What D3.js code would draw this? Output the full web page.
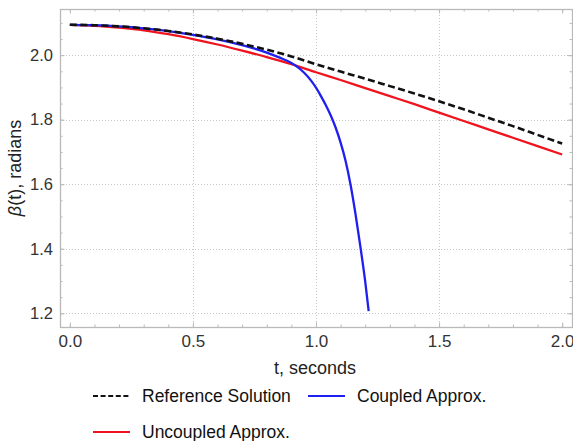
<!DOCTYPE html>
<html>
<head>
<meta charset="utf-8">
<script src="https://cdn.jsdelivr.net/npm/d3@7"></script>
<style>
  html, body { margin: 0; padding: 0; background: #fff; }
  svg { display: block; font-family: "Liberation Sans", Arial, sans-serif; }
</style>
</head>
<body>
<svg id="chart" width="573" height="441"></svg>
<script>
// ---- data ----
const tGrid = [0,0.1,0.2,0.3,0.4,0.5,0.6,0.7,0.8,0.9,1.0,1.1,1.2,1.3,1.4,1.5,1.6,1.7,1.8,1.9,2.0];
const referenceBeta = [2.094,2.0928,2.0892,2.0832,2.0748,2.064,2.051,2.035,2.017,1.996,1.972,1.949,1.927,1.904,1.881,1.857,1.832,1.806,1.780,1.753,1.726];
const uncoupledBeta = [2.094,2.091,2.085,2.077,2.065,2.050,2.033,2.014,1.994,1.972,1.947,1.923,1.898,1.873,1.848,1.822,1.796,1.770,1.744,1.718,1.692];
const coupledT    = [0,0.1,0.2,0.3,0.4,0.5,0.6,0.7,0.8,0.85,0.9,0.92,0.95,0.98,1.0,1.02,1.04,1.06,1.08,1.10,1.12,1.14,1.16,1.18,1.20,1.214];
const coupledBeta = [2.094,2.0928,2.0892,2.083,2.0745,2.063,2.049,2.031,2.008,1.993,1.976,1.966,1.947,1.921,1.899,1.873,1.845,1.813,1.775,1.729,1.673,1.600,1.510,1.408,1.298,1.207];

const xMajorTicks = [0, 0.5, 1.0, 1.5, 2.0];
const xTickLabels = ["0.0", "0.5", "1.0", "1.5", "2.0"];
const yMajorTicks = [1.2, 1.4, 1.6, 1.8, 2.0];
const yTickLabels = ["1.2", "1.4", "1.6", "1.8", "2.0"];
const xGridValues = [0.5, 1.0, 1.5];
const xLabel = "t, seconds";
const legendLabels = ["Reference Solution", "Coupled Approx.", "Uncoupled Approx."];

// ---- layout ----
const svg = d3.select("#chart");
const L = 60, R = 572, T = 9, B = 327;
const x = d3.scaleLinear().domain([-0.04, 2.04]).range([L, R]);
const y = d3.scaleLinear().domain([1.1575, 2.143]).range([B, T]);

const frameColor = "#b9b9b9";
const gridColor = "#c8c8c8";

// grid lines
svg.append("g").selectAll("line").data(xGridValues).join("line")
  .attr("x1", d => Math.round(x(d)) + 0.5).attr("x2", d => Math.round(x(d)) + 0.5)
  .attr("y1", T).attr("y2", B)
  .attr("stroke", gridColor).attr("stroke-width", 1).attr("stroke-dasharray", "1,2");
svg.append("g").selectAll("line").data(yMajorTicks).join("line")
  .attr("y1", d => Math.round(y(d)) + 0.5).attr("y2", d => Math.round(y(d)) + 0.5)
  .attr("x1", L).attr("x2", R)
  .attr("stroke", gridColor).attr("stroke-width", 1).attr("stroke-dasharray", "1,2");

// minor ticks
const xMinor = d3.range(0, 2.0001, 0.1);
const yMinor = d3.range(1.2, 2.1001, 0.05);
function styleAxis(g) {
  g.select(".domain").remove();
  g.selectAll(".tick line").attr("stroke", frameColor);
}
svg.append("g").attr("transform", `translate(0,${B})`)
  .call(d3.axisBottom(x).tickValues(xMinor).tickSize(-2.5).tickFormat(""))
  .call(styleAxis);
svg.append("g").attr("transform", `translate(0,${T})`)
  .call(d3.axisTop(x).tickValues(xMinor).tickSize(-2.5).tickFormat(""))
  .call(styleAxis);
svg.append("g").attr("transform", `translate(${L},0)`)
  .call(d3.axisLeft(y).tickValues(yMinor).tickSize(-2.5).tickFormat(""))
  .call(styleAxis);
svg.append("g").attr("transform", `translate(${R},0)`)
  .call(d3.axisRight(y).tickValues(yMinor).tickSize(-2.5).tickFormat(""))
  .call(styleAxis);

// major ticks with labels
svg.append("g").attr("transform", `translate(0,${B})`)
  .call(d3.axisBottom(x).tickValues(xMajorTicks).tickSize(-4.5).tickPadding(8)
    .tickFormat((d, i) => xTickLabels[i]))
  .call(styleAxis)
  .call(g => g.selectAll("text").attr("font-size", 17).attr("fill", "#333")
    .attr("font-family", "'Liberation Sans', Arial, sans-serif"));
svg.append("g").attr("transform", `translate(0,${T})`)
  .call(d3.axisTop(x).tickValues(xMajorTicks).tickSize(-4.5).tickFormat(""))
  .call(styleAxis);
svg.append("g").attr("transform", `translate(${L},0)`)
  .call(d3.axisLeft(y).tickValues(yMajorTicks).tickSize(-4.5).tickPadding(7)
    .tickFormat((d, i) => yTickLabels[i]))
  .call(styleAxis)
  .call(g => g.selectAll("text").attr("font-size", 16.5).attr("fill", "#333")
    .attr("font-family", "'Liberation Sans', Arial, sans-serif"));
svg.append("g").attr("transform", `translate(${R},0)`)
  .call(d3.axisRight(y).tickValues(yMajorTicks).tickSize(-4.5).tickFormat(""))
  .call(styleAxis);

// frame
svg.append("rect").attr("x", L + 0.5).attr("y", T + 0.5)
  .attr("width", R - L).attr("height", B - T)
  .attr("fill", "none").attr("stroke", frameColor).attr("stroke-width", 1.3);

// curves
const line = d3.line().curve(d3.curveMonotoneX);
const plot = svg.append("g");
plot.append("path")
  .attr("d", line(tGrid.map((t, i) => [x(t), y(uncoupledBeta[i])])))
  .attr("fill", "none").attr("stroke", "#f0141e").attr("stroke-width", 2.3);
plot.append("path")
  .attr("d", line(coupledT.map((t, i) => [x(t), y(coupledBeta[i])])))
  .attr("fill", "none").attr("stroke", "#1f1ff0").attr("stroke-width", 2.3);
plot.append("path")
  .attr("d", line(tGrid.map((t, i) => [x(t), y(referenceBeta[i])])))
  .attr("fill", "none").attr("stroke", "#111").attr("stroke-width", 2.6)
  .attr("stroke-dasharray", "7,3.5");

// axis labels
svg.append("text").attr("x", 315).attr("y", 374).attr("text-anchor", "middle")
  .attr("font-size", 18).attr("fill", "#222").text(xLabel);
const yl = svg.append("text").attr("transform", "translate(21,168) rotate(-90)")
  .attr("text-anchor", "middle").attr("font-size", 18).attr("fill", "#222");
yl.append("tspan").attr("font-style", "italic").text("β");
yl.append("tspan").text("(t), radians");

// legend
const legendItems = [
  { label: legendLabels[0], color: "#111", dash: "5,2.6", x: 93, y: 396 },
  { label: legendLabels[1], color: "#1f1ff0", dash: null, x: 308, y: 396 },
  { label: legendLabels[2], color: "#f0141e", dash: null, x: 93, y: 432 }
];
const lg = svg.append("g").selectAll("g").data(legendItems).join("g")
  .attr("transform", d => `translate(${d.x},${d.y})`);
lg.append("line").attr("x1", 0).attr("x2", 37).attr("y1", 0).attr("y2", 0)
  .attr("stroke", d => d.color).attr("stroke-width", 1.8)
  .attr("stroke-dasharray", d => d.dash);
lg.append("text").attr("x", 49).attr("y", 0).attr("dy", "0.35em")
  .attr("font-size", 17.5).attr("fill", "#111").text(d => d.label);
</script>
</body>
</html>
